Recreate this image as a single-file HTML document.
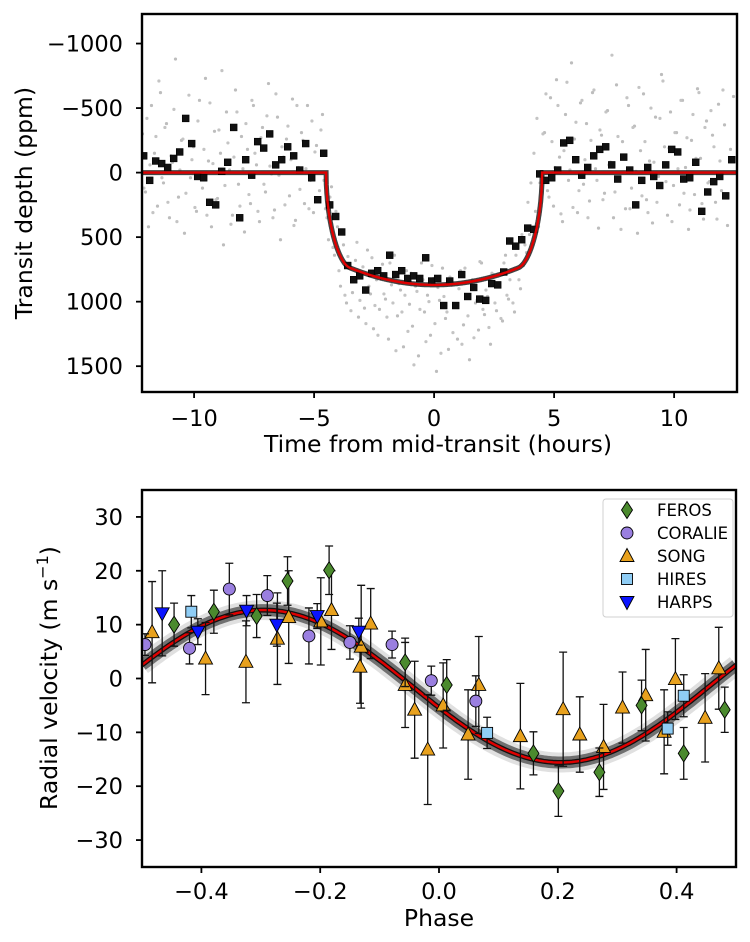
<!DOCTYPE html>
<html><head><meta charset="utf-8"><style>
html,body{margin:0;padding:0;background:#fff;}
svg{display:block;font-family:"DejaVu Sans","Liberation Sans",sans-serif;}
</style></head><body>
<svg id="fig" width="750" height="942" viewBox="0 0 750 942" xmlns="http://www.w3.org/2000/svg">
<g id="topPanel"></g>
<g id="botPanel"></g>
</svg>
<script>
// ---------- Transit data ----------
const binStart = -12.1, binStep = 0.25;
const binDepths = [-130,60,-90,-70,-40,-110,-160,-420,-225,30,40,230,250,-10,-80,-350,350,-100,20,-240,-190,-300,-60,-100,-200,-130,-20,-225,40,210,-150,
250,340,460,720,830,800,910,780,760,800,640,790,760,820,800,820,660,840,820,1030,840,1030,790,960,890,980,990,860,870,770,530,570,520,430,440,10,
60,40,-20,-230,-250,-100,20,-40,-130,-180,-200,-60,50,-120,-20,250,60,-40,30,100,-60,-180,-160,50,40,-80,300,150,70,30,180,-100];
const rawStart = -12.15, rawStep = 0.125;
const rawDepths = [-300,150,420,-520,-150,260,-620,80,-380,350,-80,-880,190,-250,470,-410,40,-200,300,-560,120,-730,-90,420,-320,200,-150,560,-470,-20,330,-640,90,-280,460,-180,240,-520,-60,380,-350,150,-690,10,290,-430,520,-120,-260,180,-570,370,-40,-310,240,-520,60,310,-210,140,-450,
280,520,110,640,420,880,560,1010,720,930,680,1120,790,1050,600,940,1210,830,1060,710,980,1290,870,640,1110,910,1350,760,1020,1190,880,1420,700,1080,950,1260,820,1540,990,740,1130,1370,870,1040,1290,760,1180,950,1450,830,1010,1220,700,1100,960,1330,790,1070,880,1150,640,980,760,1080,560,900,720,620,480,560,300,420,150,
-310,140,-580,260,-720,-120,380,-450,60,-850,-260,310,-540,90,-380,220,-620,-30,430,-290,160,-480,-80,350,-680,40,-240,280,-520,120,-360,470,-170,-610,210,-90,390,-430,30,-760,-200,330,-470,100,-310,250,-560,-40,440,-250,170,-650,-110,360,-400,70,-290,230,-530,140,-370,410,-180,-590];
const rawStart2 = -12.09;
const rawDepths2 = [120,-420,-60,310,-280,-710,40,-350,230,-130,-490,380,-20,-260,160,-600,-100,270,-400,50,-180,330,-540,-70,210,-330,-790,100,-230,400,-120,-470,260,-30,-380,170,-560,-150,300,-270,90,-440,-50,350,-610,20,-200,250,-360,-100,410,-520,130,-250,-30,280,-400,-160,200,-330,60,
350,190,580,300,760,470,950,650,1070,820,540,990,730,1170,880,660,1030,1260,790,940,1120,700,1010,1380,860,1080,950,1230,780,1490,920,1060,830,1310,1000,720,1170,890,1400,960,1080,810,1240,1020,900,1330,740,1110,850,1280,990,690,1060,910,1200,780,1010,860,1130,700,950,830,1010,640,830,480,560,230,80,
-150,-420,80,-300,-610,190,-240,-40,-520,320,-170,-700,-20,270,-390,140,-560,-100,350,-250,-640,60,-330,210,-470,-60,-910,150,-280,440,-130,-580,280,-350,-10,-660,180,-240,310,-500,-80,230,-420,-710,70,-190,380,-310,-30,-560,160,-270,290,-450,-110,-620,240,-350,80,-480,-200,360,-90,-640];
const topXTicks = [-10,-5,0,5,10];
const topXTickLabels = ["\u221210","\u22125","0","5","10"];
const topYTicks = [-1000,-500,0,500,1000,1500];
const topYTickLabels = ["\u22121000","\u2212500","0","500","1000","1500"];
const transitDepth = [870];
const transitHalfDur = [4.5];

// ---------- RV data ----------
const ferosPhase = [-0.446,-0.379,-0.307,-0.255,-0.185,-0.057,0.013,0.159,0.201,0.270,0.341,0.412,0.481];
const ferosRV    = [10.0,12.4,11.6,18.1,20.1,3.0,-1.2,-13.9,-20.9,-17.4,-5.0,-13.9,-5.8];
const ferosErr   = [4,4,4,4.5,4.5,4.5,4.7,4,4.7,4.5,4.7,4.8,4.2];
const coraliePhase = [-0.495,-0.42,-0.353,-0.289,-0.219,-0.150,-0.079,-0.013,0.062];
const coralieRV    = [6.3,5.6,16.6,15.4,7.9,6.7,6.3,-0.4,-4.2];
const coralieErr   = [2,2.9,4.8,3.7,5.2,3.1,2.5,2.7,4.7];
const songPhase = [-0.483,-0.393,-0.325,-0.272,-0.253,-0.199,-0.181,-0.133,-0.131,-0.115,-0.057,-0.041,-0.019,0.007,0.049,0.067,0.137,0.209,0.237,0.277,0.309,0.348,0.379,0.398,0.448,0.471];
const songRV    = [8.6,3.7,3.1,7.4,11.4,10.6,12.7,2.2,5.9,10.2,-1.2,-5.8,-13.2,-5.0,-10.4,-1.2,-10.7,-5.7,-10.4,-12.7,-5.4,-3.1,-9.9,-0.1,-7.3,1.9];
const songErr   = [9.4,6.7,7.6,8.5,8.6,8.1,7.3,6.8,11.4,6.5,7.9,9,10.2,7.9,8.3,9,9.8,10.6,7,7.9,6.6,8.5,7.8,7.5,8.2,7.6];
const hiresPhase = [-0.417,0.081,0.385,0.412];
const hiresRV    = [12.4,-10.1,-9.3,-3.2];
const hiresErr   = [3.0,2.9,3.1,3.9];
const harpsPhase = [-0.466,-0.406,-0.324,-0.273,-0.205,-0.135];
const harpsRV    = [12.1,8.7,12.6,10.0,11.6,8.7];
const harpsErr   = [7.9,2.4,2.8,4,2.3,2.5];
const rvGamma = [-1.45], rvK = [14.15], rvPhaseOffset = [0.295];
const botXTicks = [-0.4,-0.2,0,0.2,0.4];
const botXTickLabels = ["\u22120.4","\u22120.2","0.0","0.2","0.4"];
const botYTicks = [30,20,10,0,-10,-20,-30];
const botYTickLabels = ["30","20","10","0","\u221210","\u221220","\u221230"];

const NS = "http://www.w3.org/2000/svg";
const TICKFS = 22.5, LABFS = 23.5;
function mk(parent, tag, attrs){const e=document.createElementNS(NS,tag);for(const k in attrs)e.setAttribute(k,attrs[k]);parent.appendChild(e);return e;}

// ===== Top panel =====
const T = {x0:142,x1:737,y0:14,y1:392,xmin:-12.17,xmax:12.62,ymin:-1229,ymax:1700};
const tx = v => T.x0 + (v - T.xmin)/(T.xmax - T.xmin)*(T.x1 - T.x0);
const ty = v => T.y0 + (v - T.ymin)/(T.ymax - T.ymin)*(T.y1 - T.y0);
const topG = document.getElementById('topPanel');
const cpt = mk(topG,'clipPath',{id:'clipTop'});
mk(cpt,'rect',{x:T.x0,y:T.y0,width:T.x1-T.x0,height:T.y1-T.y0});
const topPlot = mk(topG,'g',{'clip-path':'url(#clipTop)'});


rawDepths.forEach((d,i)=>{
  const c = mk(topPlot,'circle',{cx:tx(rawStart+i*rawStep),cy:ty(d),r:1.6,fill:'#bdbdbd'});
  
  
});
rawDepths2.forEach((d,i)=>{
  const c = mk(topPlot,'circle',{cx:tx(rawStart2+i*rawStep),cy:ty(d),r:1.6,fill:'#c4c4c4'});
  
  
});
function transitModel(t){
  const u = Math.abs(t)/transitHalfDur[0];
  if(u>=1) return 0;
  let d = transitDepth[0]*(1-0.25*u*u);
  if(u>0.78){ const w=(u-0.78)/0.22; d *= Math.sqrt(Math.max(0,1-w*w)); }
  return d;
}
let pts=[];
for(let t=T.xmin;t<=T.xmax;t+=0.01) pts.push(tx(t).toFixed(1)+','+ty(transitModel(t)).toFixed(1));
const band = mk(topPlot,'polyline',{points:pts.join(' '),fill:'none',stroke:'#222',"stroke-width":5,opacity:0.85});


binDepths.forEach((d,i)=>{
  const t = binStart+i*binStep;
  const r = mk(topPlot,'rect',{x:tx(t)-3.4,y:ty(d)-3.4,width:6.8,height:6.8,fill:'#111',stroke:'#000','stroke-width':0.6});
  
  
});
const redTop = mk(topPlot,'polyline',{points:pts.join(' '),fill:'none',stroke:'#e00000',"stroke-width":2.4});


const fT = mk(topG,'rect',{x:T.x0,y:T.y0,width:T.x1-T.x0,height:T.y1-T.y0,fill:'none',stroke:'#000','stroke-width':2.4});


topXTicks.forEach((v,i)=>{
  mk(topG,'line',{x1:tx(v),x2:tx(v),y1:T.y1,y2:T.y1+6,stroke:'#000','stroke-width':1.8});
  const t = mk(topG,'text',{x:tx(v),y:426,'font-size':TICKFS,'text-anchor':'middle',fill:'#000'});
  t.textContent = topXTickLabels[i];
  
  
});
topYTicks.forEach((v,i)=>{
  mk(topG,'line',{x1:T.x0-6,x2:T.x0,y1:ty(v),y2:ty(v),stroke:'#000','stroke-width':1.8});
  const t = mk(topG,'text',{x:123,y:ty(v)+8,'font-size':TICKFS,'text-anchor':'end',fill:'#000'});
  t.textContent = topYTickLabels[i];
  
  
});
{
  const xl = mk(topG,'text',{x:438,y:452,'font-size':LABFS,'text-anchor':'middle',fill:'#000'});
  xl.textContent='Time from mid-transit (hours)';
  
  
  const yl = mk(topG,'text',{x:0,y:0,'font-size':LABFS,'text-anchor':'middle',fill:'#000',transform:'translate(32,203) rotate(-90)'});
  yl.textContent='Transit depth (ppm)';
  
  
}

// ===== Bottom panel =====
const B = {x0:142,x1:736,y0:490,y1:867,xmin:-0.5,xmax:0.5,ymin:-35,ymax:35};
const bx = v => B.x0 + (v - B.xmin)/(B.xmax - B.xmin)*(B.x1 - B.x0);
const by = v => B.y1 - (v - B.ymin)/(B.ymax - B.ymin)*(B.y1 - B.y0);
const botG = document.getElementById('botPanel');
const cpb = mk(botG,'clipPath',{id:'clipBot'});
mk(cpb,'rect',{x:B.x0,y:B.y0,width:B.x1-B.x0,height:B.y1-B.y0});
const botPlot = mk(botG,'g',{'clip-path':'url(#clipBot)'});


const rvModel = p => rvGamma[0] + rvK[0]*Math.cos(2*Math.PI*(p+rvPhaseOffset[0]));
let rp=[];
for(let p=-0.5;p<=0.5001;p+=0.004) rp.push(bx(p).toFixed(1)+','+by(rvModel(p)).toFixed(1));
const b1 = mk(botPlot,'polyline',{points:rp.join(' '),fill:'none',stroke:'#000','stroke-width':20,opacity:0.12});


const b2 = mk(botPlot,'polyline',{points:rp.join(' '),fill:'none',stroke:'#000','stroke-width':12,opacity:0.5});


const b3 = mk(botPlot,'polyline',{points:rp.join(' '),fill:'none',stroke:'#111','stroke-width':5});


const redB = mk(botPlot,'polyline',{points:rp.join(' '),fill:'none',stroke:'#e00000','stroke-width':2.4});



function marker(g,kind,cx,cy,fill){
  let e;
  if(kind==='diamond') e=mk(g,'polygon',{points:`${cx},${cy-8.5} ${cx+5.5},${cy} ${cx},${cy+8.5} ${cx-5.5},${cy}`});
  else if(kind==='circle') e=mk(g,'circle',{cx:cx,cy:cy,r:6});
  else if(kind==='tri') e=mk(g,'polygon',{points:`${cx},${cy-7.5} ${cx+7},${cy+5.5} ${cx-7},${cy+5.5}`});
  else if(kind==='square') e=mk(g,'rect',{x:cx-5.5,y:cy-5.5,width:11,height:11});
  else e=mk(g,'polygon',{points:`${cx},${cy+7.5} ${cx+7},${cy-5.5} ${cx-7},${cy-5.5}`});
  e.setAttribute('fill',fill);e.setAttribute('stroke','#000');e.setAttribute('stroke-width',0.9);
  return e;
}
function series(name,ph,rv,er,kind,fill){
  const g = mk(botPlot,'g',{});
  
  
  ph.forEach((p,i)=>{
    const x=bx(p), yt=by(rv[i]+er[i]), yb=by(rv[i]-er[i]);
    const eb = mk(g,'path',{d:`M${x},${yt}V${yb}M${x-4},${yt}H${x+4}M${x-4},${yb}H${x+4}`,stroke:'#111','stroke-width':1.3,fill:'none'});
    
    
  });
  ph.forEach((p,i)=>{
    const m = marker(g,kind,bx(p),by(rv[i]),fill);
    
    
  });
}
series('song',songPhase,songRV,songErr,'tri','#e8a11d');
series('feros',ferosPhase,ferosRV,ferosErr,'diamond','#4b8a2e');
series('coralie',coraliePhase,coralieRV,coralieErr,'circle','#9a7fe0');
series('hires',hiresPhase,hiresRV,hiresErr,'square','#8fcdf5');
series('harps',harpsPhase,harpsRV,harpsErr,'tridown','#0a14ff');

const fB = mk(botG,'rect',{x:B.x0,y:B.y0,width:B.x1-B.x0,height:B.y1-B.y0,fill:'none',stroke:'#000','stroke-width':2.4});


botXTicks.forEach((v,i)=>{
  mk(botG,'line',{x1:bx(v),x2:bx(v),y1:B.y1,y2:B.y1+6,stroke:'#000','stroke-width':1.8});
  const t = mk(botG,'text',{x:bx(v),y:899,'font-size':TICKFS,'text-anchor':'middle',fill:'#000'});
  t.textContent = botXTickLabels[i];
  
  
});
botYTicks.forEach((v,i)=>{
  mk(botG,'line',{x1:B.x0-6,x2:B.x0,y1:by(v),y2:by(v),stroke:'#000','stroke-width':1.8});
  const t = mk(botG,'text',{x:123,y:by(v)+8,'font-size':TICKFS,'text-anchor':'end',fill:'#000'});
  t.textContent = botYTickLabels[i];
  
  
});
{
  const xl = mk(botG,'text',{x:439,y:926,'font-size':LABFS,'text-anchor':'middle',fill:'#000'});
  xl.textContent='Phase';
  
  
  const yl = mk(botG,'text',{x:0,y:0,'font-size':LABFS,'text-anchor':'middle',fill:'#000',transform:'translate(57,678) rotate(-90)'});
  yl.textContent='Radial velocity (m s';
  const sup = mk(yl,'tspan',{'font-size':16,dy:-9});
  sup.textContent='\u22121';
  const cl = mk(yl,'tspan',{dy:9});
  cl.textContent=')';
  
  
}
// legend
const legendLabels = ['FEROS','CORALIE','SONG','HIRES','HARPS'];
const legendKinds = ['diamond','circle','tri','square','tridown'];
const legendFills = ['#4b8a2e','#9a7fe0','#e8a11d','#8fcdf5','#0a14ff'];
const lg = mk(botG,'g',{});


mk(lg,'rect',{x:603,y:499,width:130,height:118,rx:3,fill:'#fff',stroke:'#ccc','stroke-width':1,opacity:0.9});
legendLabels.forEach((l,i)=>{
  const y = 510 + i*23;
  const e = mk(lg,'g',{});
  
  
  marker(e,legendKinds[i],627,y,legendFills[i]);
  const t = mk(e,'text',{x:657,y:y+6,'font-size':16.5,fill:'#000'});
  t.textContent = l;
});
</script>
</body></html>
